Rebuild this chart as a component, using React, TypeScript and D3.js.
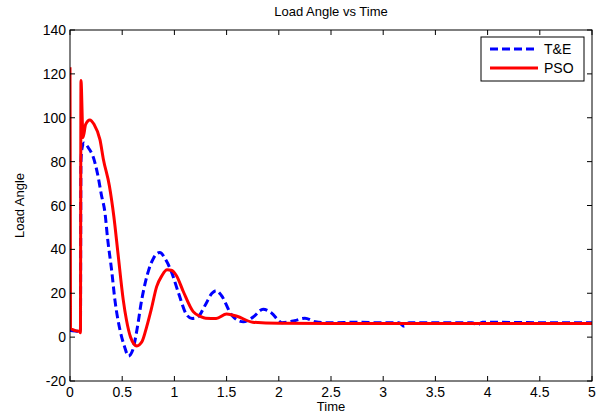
import React from "react";
import * as d3 from "d3";

const xTicks = [0, 0.5, 1, 1.5, 2, 2.5, 3, 3.5, 4, 4.5, 5];
const yTicks = [-20, 0, 20, 40, 60, 80, 100, 120, 140];

const teTime = [0, 0.005, 0.1, 0.105, 0.115, 0.134, 0.18, 0.22, 0.27, 0.30, 0.335, 0.36, 0.40, 0.43, 0.48, 0.52, 0.56, 0.60, 0.64, 0.687, 0.75, 0.80, 0.86, 0.92, 0.97, 1.04, 1.12, 1.17, 1.22, 1.30, 1.36, 1.40, 1.45, 1.55, 1.66, 1.75, 1.85, 1.93, 2.03, 2.15, 2.25, 2.35, 2.5, 2.75, 3.0, 3.15, 3.2, 3.25, 3.5, 3.85, 3.9, 3.95, 4.5, 5.0];
const teValue = [3, 3, 2.5, 80, 86, 88.5, 86, 82.4, 73, 65, 56.7, 45, 30, 17, 3, -4, -8.6, -6, 3, 17, 30, 36, 38.6, 35, 30, 20, 10, 8.5, 9, 15, 20, 21.2, 19, 10, 7, 9, 12.7, 11, 6.6, 7.5, 8.6, 7, 6.5, 6.8, 6.5, 6.6, 5, 6.5, 6.6, 6.6, 5.5, 6.8, 6.6, 6.6];

const psoTime = [0, 0.005, 0.05, 0.095, 0.1, 0.105, 0.125, 0.15, 0.19, 0.23, 0.287, 0.32, 0.377, 0.42, 0.46, 0.51, 0.54, 0.58, 0.64, 0.69, 0.735, 0.78, 0.83, 0.88, 0.93, 0.97, 1.02, 1.085, 1.18, 1.25, 1.30, 1.40, 1.50, 1.60, 1.75, 2.0, 2.5, 3.0, 3.5, 4.0, 4.5, 5.0];
const psoValue = [123, 4, 3, 2.5, 2, 117, 91, 97, 99, 97, 90, 81, 69, 55, 38, 17, 8, 0, -4, -2, 4.8, 13, 23, 28, 30.7, 30.5, 28, 20.8, 11.6, 9.4, 8.6, 8.5, 10.5, 9.5, 6.8, 6.3, 6.2, 6.2, 6.2, 6.2, 6.2, 6.2];

const seriesNames = ["T&E", "PSO"];

export default function App() {
  const W = 597, H = 415;
  const L = 70, R = 592, T = 30, B = 381;
  const x = d3.scaleLinear().domain([0, 5]).range([L, R]);
  const y = d3.scaleLinear().domain([-20, 140]).range([B, T]);
  const line = d3.line<[number, number]>().x(d => x(d[0])).y(d => y(d[1])).curve(d3.curveMonotoneX);
  const te = line(teTime.map((t, i) => [t, teValue[i]]) as [number, number][]) || "";
  const pso = line(psoTime.map((t, i) => [t, psoValue[i]]) as [number, number][]) || "";
  const font = "'Liberation Sans', Arial, sans-serif";
  return (
    <svg width={W} height={H} style={{ position: "absolute", left: 0, top: 0, background: "#fff" }} fontFamily={font}>
      <defs>
        <clipPath id="clip"><rect x={L} y={T} width={R - L} height={B - T} /></clipPath>
      </defs>
      <rect x={0} y={0} width={W} height={H} fill="#fff" />
      <g clipPath="url(#clip)">
        <path d={te} fill="none" stroke="#0000ff" strokeWidth={3} strokeDasharray="8,4" />
        <path d={pso} fill="none" stroke="#ff0000" strokeWidth={3} />
      </g>
      <rect x={L} y={T} width={R - L} height={B - T} fill="none" stroke="#000" strokeWidth={1} />
      {xTicks.map(t => (
        <g key={"x" + t}>
          <line x1={x(t)} x2={x(t)} y1={B} y2={B - 5} stroke="#000" />
          <line x1={x(t)} x2={x(t)} y1={T} y2={T + 5} stroke="#000" />
          <text x={x(t)} y={B + 16} fontSize={14} textAnchor="middle">{t}</text>
        </g>
      ))}
      {yTicks.map(t => (
        <g key={"y" + t}>
          <line x1={L} x2={L + 5} y1={y(t)} y2={y(t)} stroke="#000" />
          <line x1={R} x2={R - 5} y1={y(t)} y2={y(t)} stroke="#000" />
          <text x={L - 4} y={y(t) + 5} fontSize={14} textAnchor="end">{t}</text>
        </g>
      ))}
      <text x={(L + R) / 2} y={16} fontSize={13} textAnchor="middle">Load Angle vs Time</text>
      <text x={(L + R) / 2} y={411} fontSize={13} textAnchor="middle">Time</text>
      <text transform={`translate(24,${(T + B) / 2}) rotate(-90)`} fontSize={13} textAnchor="middle">Load Angle</text>
      <g>
        <rect x={481} y={37} width={103} height={44} fill="#fff" stroke="#000" />
        <line x1={490} x2={538} y1={49} y2={49} stroke="#0000ff" strokeWidth={3} strokeDasharray="8,4" />
        <line x1={490} x2={538} y1={68} y2={68} stroke="#ff0000" strokeWidth={3} />
        <text x={544} y={54} fontSize={14}>{seriesNames[0]}</text>
        <text x={544} y={73} fontSize={14}>{seriesNames[1]}</text>
      </g>
    </svg>
  );
}
